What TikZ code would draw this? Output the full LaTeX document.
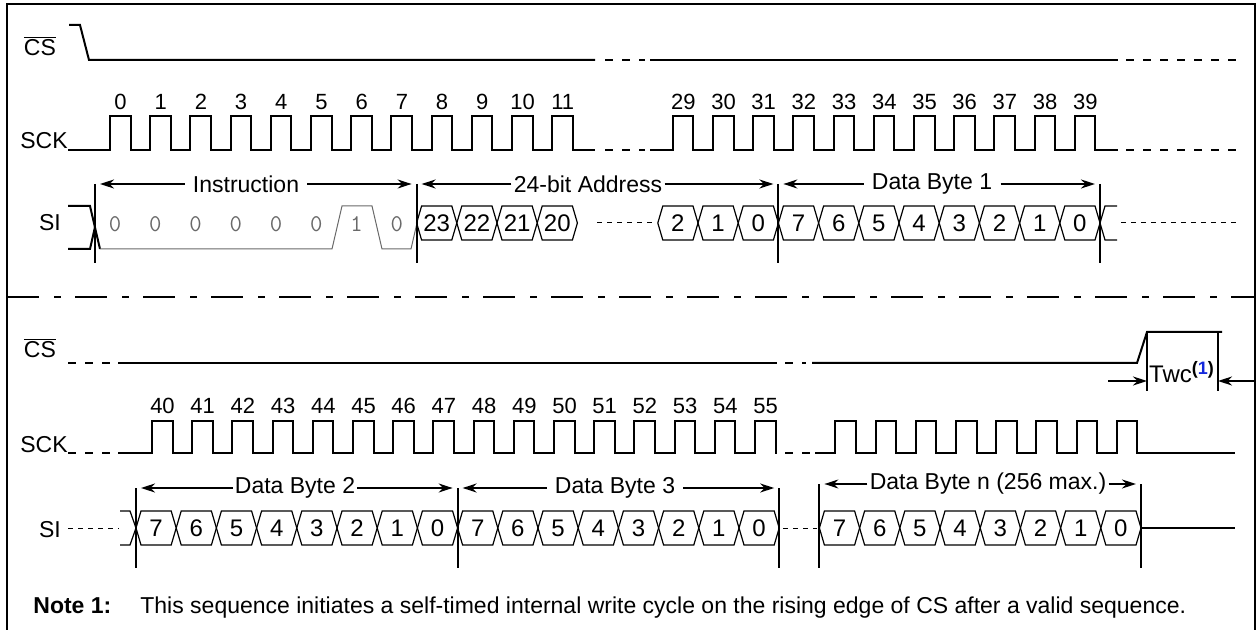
\documentclass[tikz,border=0pt]{standalone}
\usepackage{fontspec}
\setmainfont{Liberation Sans}
\usetikzlibrary{arrows.meta}

\definecolor{refblue}{RGB}{20,40,220}
\definecolor{bitgray}{RGB}{105,105,105}

\tikzset{
  sig/.style={line width=1pt},
  thinsig/.style={line width=0.5pt, draw=bitgray},
  hexline/.style={line width=0.6pt},
  gapline/.style={line width=1pt, dash pattern=on 4pt off 4.5pt},
  dotline/.style={line width=0.5pt, dash pattern=on 2.5pt off 2.5pt},
  sepline/.style={line width=1pt, dash pattern=on 16pt off 7.5pt on 3.5pt off 7pt},
  span/.style={line width=1pt, -{Stealth[length=7pt,width=4.5pt]}, shorten >=2.5pt},
  num/.style={font=\fontsize{11}{13}\selectfont, inner sep=0pt},
  lbl/.style={font=\fontsize{11.5}{14}\selectfont},
  hexnum/.style={font=\fontsize{12}{14}\selectfont, inner sep=0pt},
  bitnum/.style={font=\ttfamily\fontsize{12}{14}\selectfont, text=bitgray, inner sep=0pt}
}

\newcommand{\hexcell}[4]{%
  \draw[hexline] ({#2},{#3+17}) -- ({#2+5},{#3}) -- ({#2+35.2},{#3}) -- ({#2+40.2},{#3+17})
    -- ({#2+35.2},{#3+34}) -- ({#2+5},{#3+34}) -- cycle;
  \node[hexnum] (#1) at ({#2+20.1},{#3+17}) {#4};}

\begin{document}
\begin{tikzpicture}[x=0.5pt, y=-0.5pt]
  \useasboundingbox (0,0) rectangle (1258,630);
  \draw[sig] (7,640) -- (7,4) -- (1255,4) -- (1255,640);

  % first part
  \node[lbl, anchor=base east] (cs1) at (63,56) {$\overline{\mbox{CS}}$};
  \draw[sig] (69,25) -- (80,25) -- (89,60) -- (595,60);
  \draw[gapline] (605,60) -- (645,60);
  \draw[sig] (650,60) -- (1118,60);
  \draw[gapline] (1126,60) -- (1240,60);

  \node[lbl, anchor=base east, inner sep=0pt] (sck1) at (68,149) {SCK};
  \draw[sig] (68,150) foreach \k in {0,...,11} { -- ({110+40.2*\k},150) -- ++(0,-34) -- ++(20.5,0) -- ++(0,34) } -- (595,150);
  \draw[gapline] (605,150) -- (645,150);
  \draw[sig] (650,150) foreach \k in {14,...,24} { -- ({110+40.2*\k},150) -- ++(0,-34) -- ++(20.5,0) -- ++(0,34) } -- (1118,150);
  \draw[gapline] (1126,150) -- (1240,150);
  \foreach \n in {0,...,11} \node[num] (c\n) at ({120.5+40.2*\n},102) {\n};
  \foreach \n in {29,...,39} \node[num] (c\n) at ({120.5+40.2*(\n-15)},102) {\n};

  \node[lbl] (si1) at (50,223) {SI};
  \draw[sig] (68,206) -- (90,206) -- (100,249);
  \draw[sig] (68,249) -- (90,249) -- (95,227);
  \draw[thinsig] (100,249) -- (332,249) -- (342,206) -- (372,206) -- (382,249) -- (411,249) -- (417,223);
  \foreach \b [count=\i from 0] in {0,0,0,0,0,0,1,0} \node[bitnum] (i\i) at ({115+40.25*\i},224) {\b};
  \foreach \k/\v in {8/23,9/22,10/21,11/20,14/2,15/1,16/0} \hexcell{a\v}{95+40.2*\k}{206}{\v};
  \draw[dotline] (597,223) -- (653,223);
  \foreach \v [count=\i from 17] in {7,6,5,4,3,2,1,0} \hexcell{d\v}{95+40.2*\i}{206}{\v};
  \draw[hexline] (1100,223) -- (1105,206) -- (1117,206);
  \draw[hexline] (1100,223) -- (1105,240) -- (1117,240);
  \draw[dotline] (1121,223) -- (1240,223);

  \coordinate (m0) at (95,184);
  \coordinate (m1) at (416.6,184);
  \coordinate (m2) at (778.4,184);
  \coordinate (m3) at (1100,184);
  \foreach \m in {m0,m1,m2,m3} \draw[sig] (\m) -- ++(0,79);
  \node[lbl, inner sep=4pt] (instr) at (246,184) {Instruction};
  \draw[span] (instr) -- (m0);
  \draw[span] (instr) -- (m1);
  \node[lbl, inner sep=1pt] (addr) at (588,184) {24-bit Address};
  \draw[span] (addr) -- (m1);
  \draw[span] (addr) -- (m2);
  \node[lbl, inner sep=4pt] (byte1) at (932,184) {Data Byte 1};
  \draw[span] (byte1) -- (m2);
  \draw[span] (byte1) -- (m3);

  \draw[sepline] (7,297) -- (1255,297);

  % second part
  \node[lbl, anchor=base east] (cs2) at (63,358) {$\overline{\mbox{CS}}$};
  \draw[gapline] (68,363) -- (112,363);
  \draw[sig] (118,363) -- (777,363);
  \draw[gapline] (785,363) -- (806,363);
  \draw[sig] (812,363) -- (1137,363) -- (1147,332) -- (1222,332);
  \coordinate (w0) at (1147,381);
  \coordinate (w1) at (1218,381);
  \coordinate (wl) at (1108,381);
  \coordinate (wr) at (1255,381);
  \draw[sig] (1147,332) -- (1147,391);
  \draw[sig] (1218,332) -- (1218,391);
  \draw[span, shorten >=0pt] (wl) -- (w0);
  \draw[span, shorten >=0pt] (wr) -- (w1);
  \node[inner sep=0pt, font=\fontsize{12}{14}\selectfont] (twc) at (1182,372) {Twc\textsuperscript{\fontsize{9}{10}\selectfont\textbf{(\textcolor{refblue}{1})}}};

  \node[lbl, anchor=base east, inner sep=0pt] (sck2) at (68,452) {SCK};
  \draw[gapline] (68,453) -- (112,453);
  \draw[sig] (118,453) foreach \k in {0,...,15} { -- ({152+40.2*\k},453) -- ++(0,-32) -- ++(20.5,0) -- ++(0,32) } -- (777,453);
  \draw[gapline] (785,453) -- (812,453);
  \draw[sig] (815,453) foreach \k in {17,...,24} { -- ({152+40.2*\k},453) -- ++(0,-32) -- ++(20.5,0) -- ++(0,32) } -- (1235,453);
  \foreach \n in {40,...,55} \node[num] (c\n) at ({162.5+40.2*(\n-40)},406) {\n};

  \node[lbl] (si2) at (50,530) {SI};
  \draw[dotline] (68,528) -- (119,528);
  \draw[hexline] (120,511) -- (130,511) -- (136,528);
  \draw[hexline] (120,545) -- (130,545) -- (136,528);
  \foreach \v [count=\i from 0] in {7,6,5,4,3,2,1,0} \hexcell{p\v}{136+40.2*\i}{511}{\v};
  \foreach \v [count=\i from 8] in {7,6,5,4,3,2,1,0} \hexcell{q\v}{136+40.2*\i}{511}{\v};
  \draw[dotline] (783,528) -- (817,528);
  \foreach \v [count=\i from 17] in {7,6,5,4,3,2,1,0} \hexcell{r\v}{136+40.2*\i}{511}{\v};
  \draw[sig] (1141,528) -- (1235,528);

  \coordinate (n0) at (136,488);
  \coordinate (n1) at (457.6,488);
  \coordinate (n2) at (779.2,488);
  \coordinate (n3) at (819.4,484);
  \coordinate (n4) at (1141,484);
  \foreach \m in {n0,n1,n2} \draw[sig] (\m) -- (\m |- 0,568);
  \foreach \m in {n3,n4} \draw[sig] (\m) -- (\m |- 0,568);
  \node[lbl, inner sep=1pt] (byte2) at (295,488) {Data Byte 2};
  \draw[span] (byte2) -- (n0);
  \draw[span] (byte2) -- (n1);
  \node[lbl, inner sep=4pt] (byte3) at (615,488) {Data Byte 3};
  \draw[span] (byte3) -- (n1);
  \draw[span] (byte3) -- (n2);
  \node[lbl, inner sep=1pt] (byten) at (988,484) {Data Byte n (256 max.)\hspace{8pt}};
  \draw[span] (byten) -- (n3);
  \draw[span] (byten) -- (n4);

  \node[lbl, anchor=base west, inner sep=0pt] (note) at (33,613) {\textbf{Note 1:}};
  \node[lbl, anchor=base west, inner sep=0pt] (notetext) at (140,613) {This sequence initiates a self-timed internal write cycle on the rising edge of CS after a valid sequence.};
\end{tikzpicture}
\end{document}
